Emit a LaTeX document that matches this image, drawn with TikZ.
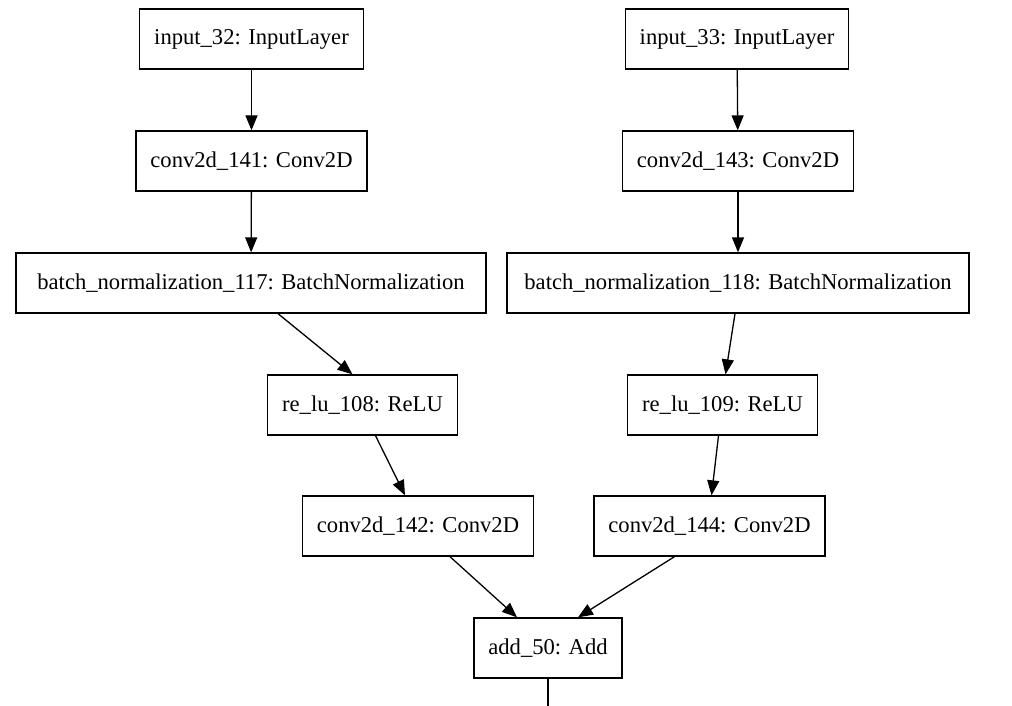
\documentclass[tikz,border=0pt]{standalone}
\usepackage{fontspec}
\setmainfont{Liberation Serif}
\usetikzlibrary{arrows.meta}
\begin{document}
\begin{tikzpicture}[x=1pt,y=-1pt,
  layer/.style={draw=black,line width=1.3pt,rectangle,minimum height=60pt,inner xsep=14.5pt,inner ysep=0pt,
    font=\fontsize{22.6}{26}\selectfont,text=black},
  edge/.style={line width=1.3pt,draw=black,-{Triangle[length=15pt,width=12pt]}},
  plain/.style={line width=1.3pt,draw=black}]
\useasboundingbox (0,0) rectangle (1012,706);
\node[layer] (in1) at (251.5,39) {input\_32: InputLayer};
\node[layer] (in2) at (737,39) {input\_33: InputLayer};
\node[layer] (c141) at (251.5,161) {conv2d\_141: Conv2D};
\node[layer] (c143) at (738,161) {conv2d\_143: Conv2D};
\node[layer,minimum width=470pt] (bn1) at (251,283) {batch\_normalization\_117: BatchNormalization};
\node[layer,minimum width=462pt] (bn2) at (738,283) {batch\_normalization\_118: BatchNormalization};
\node[layer] (r108) at (362.5,405) {re\_lu\_108: ReLU};
\node[layer] (r109) at (722.5,405) {re\_lu\_109: ReLU};
\node[layer] (c142) at (418,526) {conv2d\_142: Conv2D};
\node[layer] (c144) at (709.5,526) {conv2d\_144: Conv2D};
\node[layer] (add) at (548,648) {add\_50: Add};
\coordinate (out) at (548,706);
\draw[edge] (in1) -- (c141);
\draw[edge] (in2) -- (c143);
\draw[edge] (c141) -- (bn1);
\draw[edge] (c143) -- (bn2);
\draw[edge] ([xshift=27pt]bn1.south) -- ([xshift=-10pt]r108.north);
\draw[edge] ([xshift=-3pt]bn2.south) -- ([xshift=3pt]r109.north);
\draw[edge] ([xshift=13pt]r108.south) -- ([xshift=-13pt]c142.north);
\draw[edge] ([xshift=-4pt]r109.south) -- ([xshift=2pt]c144.north);
\draw[edge] ([xshift=32pt]c142.south) -- ([xshift=-31pt]add.north);
\draw[edge] ([xshift=-35pt]c144.south) -- ([xshift=30pt]add.north);
\draw[plain] (add) -- (out);
\end{tikzpicture}
\end{document}
